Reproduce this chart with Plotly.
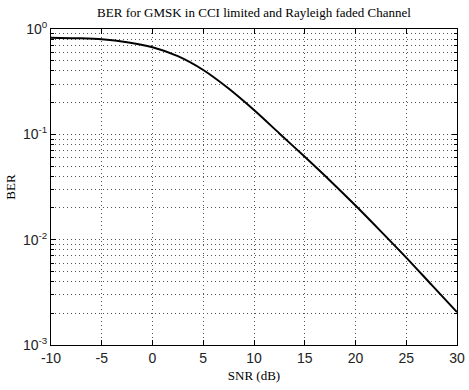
import plotly.graph_objects as go

snr_db = [-10, -7.5, -5, -2.5, 0, 2.5, 5, 7.5, 10, 12.5, 15, 17.5, 20, 22.5, 25, 27.5, 30]
ber = [0.826, 0.817, 0.800, 0.750, 0.670, 0.552, 0.408, 0.272, 0.170, 0.102, 0.0612,
       0.0363, 0.0211, 0.0120, 0.00676, 0.00372, 0.00205]

x_ticks = [-10, -5, 0, 5, 10, 15, 20, 25, 30]
x_ticktext = ["-10", "-5", "0", "5", "10", "15", "20", "25", "30"]
y_ticks = [1, 0.1, 0.01, 0.001]
y_ticktext = ["10<sup>0</sup>", "10<sup>-1</sup>", "10<sup>-2</sup>", "10<sup>-3</sup>"]
y_minor = [m * 10.0 ** e for e in (-3, -2, -1) for m in range(2, 10)]

title_text = "BER for GMSK in CCI limited and Rayleigh faded Channel"
x_label = "SNR (dB)"
y_label = "BER"

fig = go.Figure()
fig.add_trace(go.Scatter(x=snr_db, y=ber, mode="lines",
                         line=dict(color="black", width=2, shape="spline", smoothing=0.8),
                         showlegend=False, hoverinfo="skip"))

grid_col = "#555555"
grid_dash = "1px,3px"
serif = "Liberation Serif"
fig.update_layout(
    width=469, height=390,
    margin=dict(l=51, r=12, t=29, b=45, autoexpand=False),
    paper_bgcolor="white", plot_bgcolor="white",
    title=dict(text=title_text, xref="paper", x=0.5, xanchor="center",
               yref="container", y=0.969, yanchor="middle",
               font=dict(family=serif, size=13, color="black")),
    font=dict(family="Liberation Sans", size=14, color="#222222"),
)
fig.update_xaxes(
    range=[-10, 30], tickvals=x_ticks, ticktext=x_ticktext,
    ticks="inside", ticklen=5, tickcolor="black",
    showline=True, linecolor="black", linewidth=1, mirror="ticks",
    showgrid=True, gridcolor=grid_col, griddash=grid_dash, gridwidth=1,
    zeroline=False, automargin=False,
    title=dict(text=x_label, font=dict(family=serif, size=13, color="black"),
               standoff=6),
)
fig.update_yaxes(
    type="log", range=[-3, 0], tickvals=y_ticks, ticktext=y_ticktext,
    ticks="inside", ticklen=5, tickcolor="black",
    showline=True, linecolor="black", linewidth=1, mirror="ticks",
    showgrid=True, gridcolor=grid_col, griddash=grid_dash, gridwidth=1,
    zeroline=False, automargin=False,
    minor=dict(tickvals=y_minor, showgrid=True, gridcolor=grid_col, griddash=grid_dash,
               gridwidth=1, ticks="inside", ticklen=3, tickcolor="black"),
    title=dict(text=y_label, font=dict(family=serif, size=13, color="black"),
               standoff=4),
)

fig.write_html("out.html", config={"displayModeBar": False},
               post_script="document.body.style.margin='0';")
